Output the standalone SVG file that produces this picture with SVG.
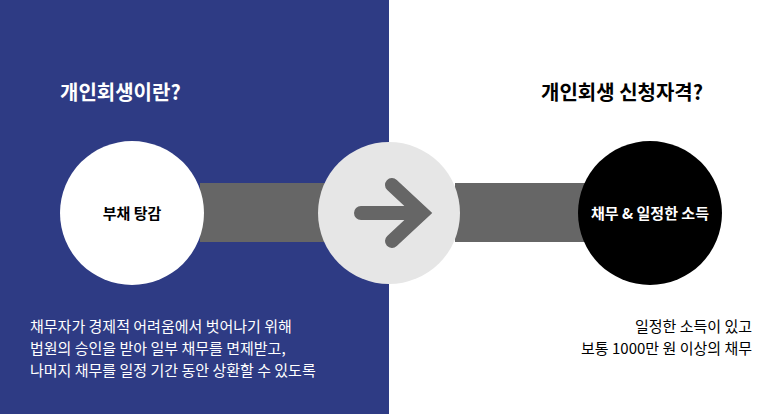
<svg xmlns="http://www.w3.org/2000/svg" width="773" height="414" viewBox="0 0 773 414">
<style>
text{font-family:"Noto Sans CJK KR","Noto Sans",sans-serif}
.t{font-size:20px;font-weight:700}
.b{font-size:15px}
.n{font-size:15px;font-weight:700;text-anchor:middle}
</style>
<rect width="773" height="414" fill="#fff"/>
<rect x="0" y="0" width="389" height="414" fill="#2e3b84"/>
<text class="t" x="60" y="100" fill="#fff">개인회생이란?</text>
<text class="t" x="541" y="100" fill="#000">개인회생 신청자격?</text>
<g id="connectors">
<rect x="200" y="183" width="130" height="59" fill="#666"/>
<rect x="455" y="183" width="135" height="59" fill="#666"/>
</g>
<g id="n1"><circle cx="132" cy="213" r="72" fill="#fff"/><text class="n" x="132" y="219" fill="#000">부채 탕감</text></g>
<g id="n2"><circle cx="389" cy="213" r="71" fill="#e6e6e6"/>
<path d="M361 213H422M392 185L422 213L392 241" fill="none" stroke="#666" stroke-width="14" stroke-linecap="round" stroke-linejoin="miter"/></g>
<g id="n3"><circle cx="650" cy="213" r="72" fill="#000"/><text class="n" x="650" y="219" fill="#fff">채무 &amp; 일정한 소득</text></g>
<g fill="#fff" class="b">
<text class="b" x="30" y="332">채무자가 경제적 어려움에서 벗어나기 위해</text>
<text class="b" x="30" y="354">법원의 승인을 받아 일부 채무를 면제받고,</text>
<text class="b" x="30" y="376">나머지 채무를 일정 기간 동안 상환할 수 있도록</text>
</g>
<g fill="#000" text-anchor="end">
<text class="b" x="752" y="332">일정한 소득이 있고</text>
<text class="b" x="752" y="354">보통 1000만 원 이상의 채무</text>
</g>
</svg>
